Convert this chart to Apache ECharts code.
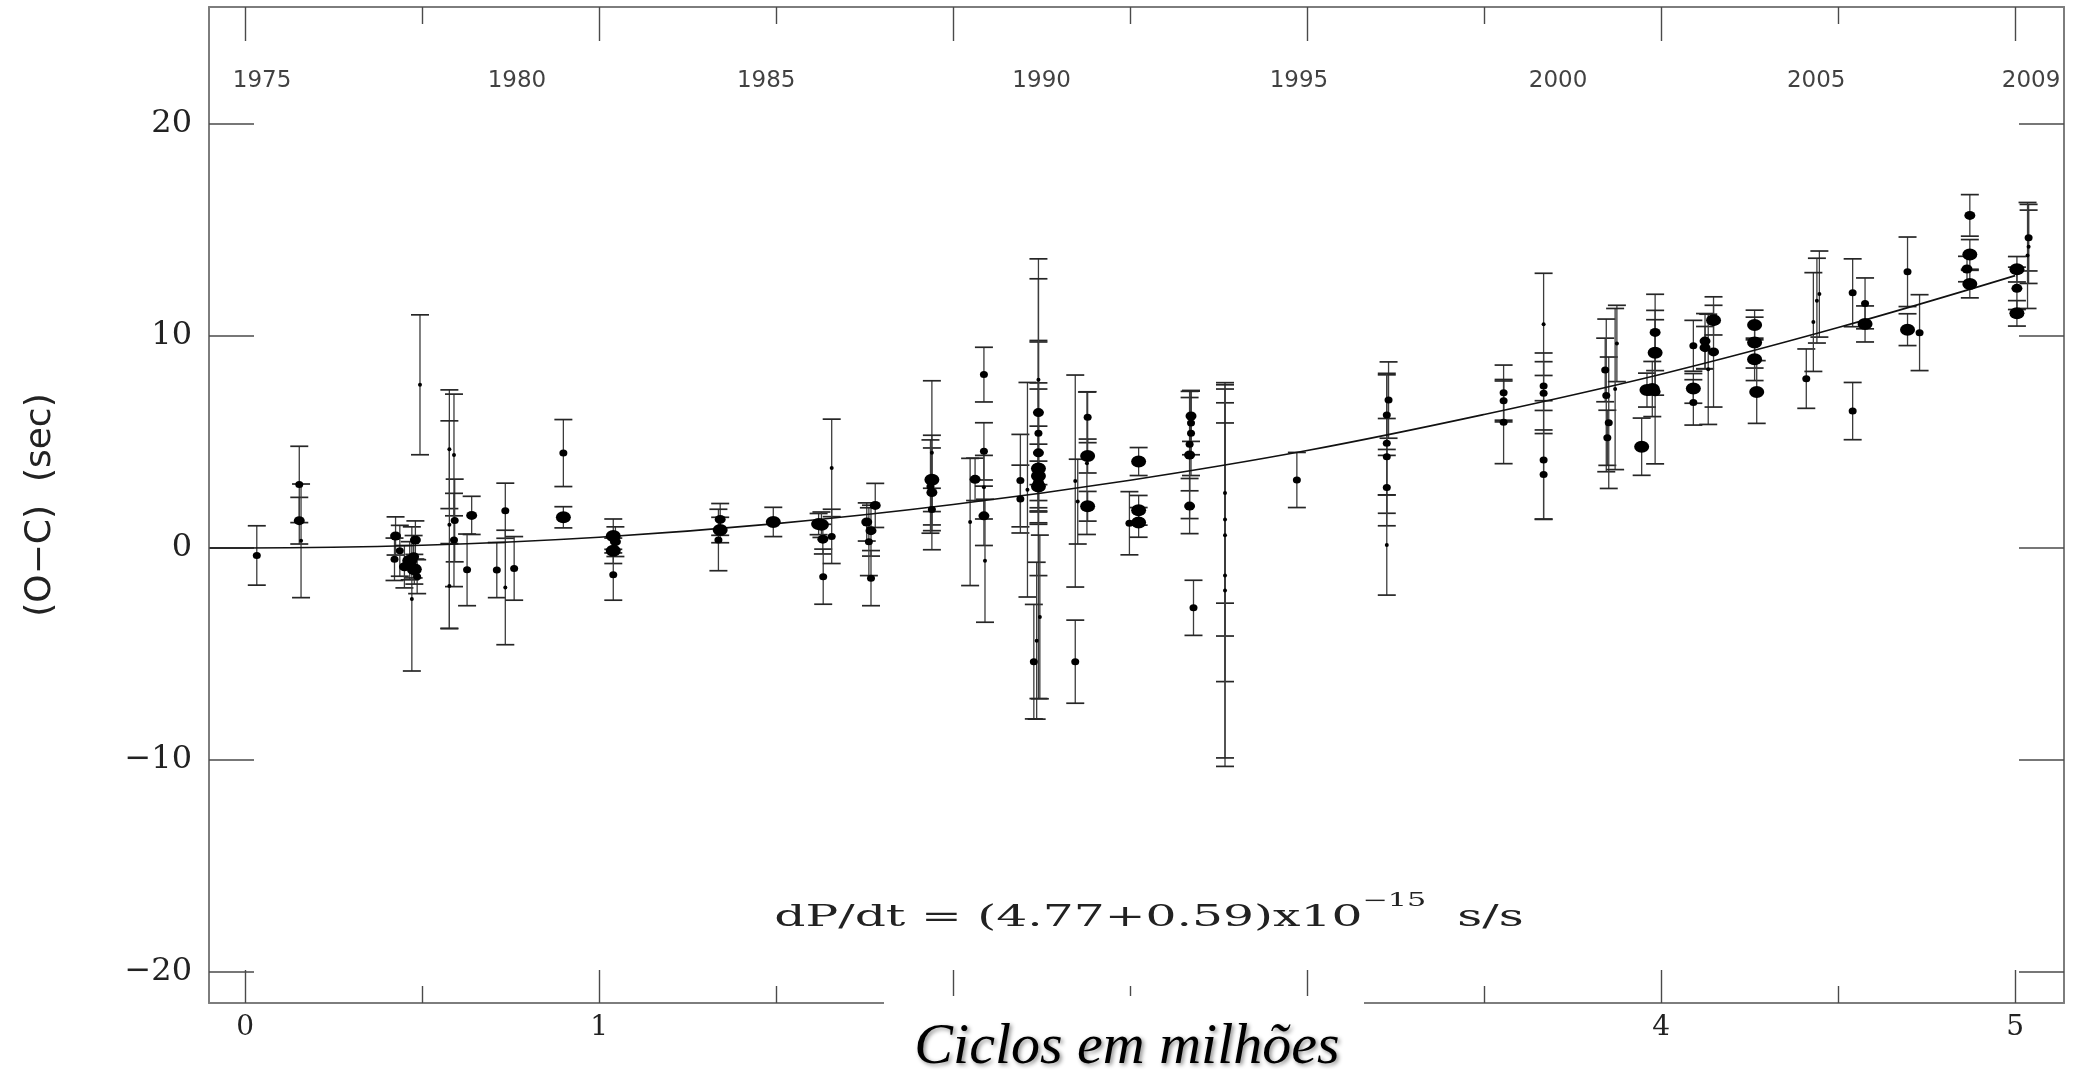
<!DOCTYPE html>
<html>
<head>
<meta charset="utf-8">
<script src="https://cdn.jsdelivr.net/npm/echarts@6/dist/echarts.min.js"></script>
<style>
  html, body { margin: 0; padding: 0; background: #fff; }
  #chart { width: 2081px; height: 1072px; }
</style>
</head>
<body>
<div id="chart"></div>
<script>
// O−C timing residuals against elapsed pulsation cycles (millions),
// with the parabola of the secular period change.

// Epoch of each timing (millions of cycles)
const cycles = [
  0.033,
  0.153, 0.153, 0.158,
  0.425, 0.422, 0.437, 0.450, 0.465, 0.471, 0.476, 0.481, 0.486, 0.478,
  0.494,
  0.577, 0.590, 0.592, 0.590, 0.577, 0.577,
  0.640, 0.627,
  0.711, 0.735, 0.735, 0.760,
  0.899, 0.899,
  1.040, 1.040, 1.046, 1.040,
  1.342, 1.342, 1.337,
  1.492,
  1.620, 1.628, 1.632, 1.633, 1.657, 1.657,
  1.756, 1.768, 1.780, 1.768, 1.762,
  1.940, 1.940, 1.940, 1.940, 1.936,
  2.048, 2.062, 2.087, 2.087, 2.087, 2.087, 2.090,
  2.190, 2.190, 2.210,
  2.241, 2.241, 2.241, 2.241, 2.241, 2.241, 2.241, 2.241, 2.241, 2.228, 2.236, 2.245,
  2.345, 2.345, 2.352, 2.380, 2.380, 2.380, 2.378,
  2.498, 2.524, 2.524, 2.524,
  2.672, 2.672, 2.672, 2.668, 2.668, 2.668, 2.679,
  2.768, 2.768, 2.768, 2.768, 2.768,
  2.971,
  3.230, 3.225, 3.225, 3.225, 3.225, 3.225,
  3.555, 3.555, 3.555,
  3.668, 3.668, 3.668, 3.668, 3.668,
  3.842, 3.845, 3.852, 3.848, 3.875, 3.870,
  3.945, 3.960, 3.983, 3.983, 3.983, 3.975,
  4.091, 4.091, 4.091,
  4.124, 4.124, 4.133, 4.148, 4.148,
  4.264, 4.264, 4.264, 4.270,
  4.410, 4.447, 4.440, 4.430,
  4.541, 4.541, 4.576, 4.576,
  4.696, 4.696, 4.730,
  4.872, 4.872, 4.864, 4.872,
  5.005, 5.005, 5.005, 5.038, 5.038, 5.035
];

// O−C residual (s)
const residual = [
  -0.35,
  3.0, 1.29, 0.34,
  0.57, -0.53, -0.13, -0.88, -0.6, -2.4, -0.41, 0.38, -1.35, -1.0,
  7.7,
  4.66, 4.39, 1.3, 0.38, -1.79, 1.1,
  1.54, -1.03,
  -1.04, 1.76, -1.86, -0.96,
  4.48, 1.45,
  0.57, -0.13, 0.3, -1.26,
  1.35, 0.85, 0.38,
  1.23,
  1.13, 1.1, 0.42, -1.35, 3.78, 0.55,
  1.23, 0.82, 2.01, -1.42, 0.3,
  4.49, 3.22, 2.62, 1.82, 2.9,
  1.23, 3.24, 8.18, 4.56, 2.87, 1.52, -0.6,
  3.18, 2.31, 2.75,
  7.94, 6.39, 5.42, 4.49, 3.75, 3.4, 2.9, 3.1, 2.8, -5.36, -4.37, -3.25,
  3.16, -5.36, 2.19, 6.17, 4.34, 1.97, 4.0,
  1.17, 4.08, 1.78, 1.21,
  6.23, 5.9, 5.42, 4.9, 4.39, 1.98, -2.82,
  2.6, 1.35, 0.6, -1.3, -2.0,
  3.21,
  6.98, 6.27, 4.94, 4.31, 2.85, 0.14,
  7.33, 6.95, 5.93,
  10.55, 7.64, 7.3, 4.15, 3.47,
  8.4, 7.2, 5.91, 5.2, 9.65, 7.5,
  4.78, 7.45, 10.17, 9.21, 7.37, 7.5,
  9.54, 7.53, 6.87,
  9.76, 9.45, 8.43, 10.75, 9.25,
  10.52, 9.69, 8.9, 7.36,
  7.99, 11.98, 11.67, 10.66,
  12.04, 6.46, 10.57, 11.54,
  13.03, 10.3, 10.16,
  15.69, 13.85, 13.16, 12.45,
  13.15, 12.25, 11.07, 14.64, 14.21, 13.8
];

// 1-sigma uncertainty (s)
const sigma = [
  1.4,
  1.8, 1.1, 2.68,
  0.9, 1.0, 1.2, 1.0, 0.9, 3.4, 1.0, 0.9, 0.8, 0.7,
  3.3,
  2.8, 2.87, 1.95, 2.2, 2.0, 4.9,
  0.9, 1.69,
  1.3, 1.3, 2.7, 1.5,
  1.58, 0.5,
  0.8, 0.6, 0.7, 1.2,
  0.75, 0.6, 1.45,
  0.69,
  0.5, 0.6, 0.7, 1.3, 2.3, 1.28,
  0.9, 1.2, 1.04, 1.3, 1.6,
  3.4, 1.5, 2.7, 1.0, 2.2,
  3.0, 1.0, 1.29, 1.35, 1.5, 1.4, 2.9,
  2.18, 1.6, 5.06,
  5.7, 3.4, 4.3, 3.3, 2.0, 1.5, 1.2, 4.4, 9.9, 2.7, 3.7, 3.86,
  5.0, 1.96, 2.0, 1.2, 0.8, 0.7, 3.36,
  1.49, 0.66, 0.7, 0.7,
  1.2, 1.5, 2.0, 2.2, 3.0, 1.3, 1.3,
  5.2, 5.5, 6.9, 9.0, 7.9,
  1.3,
  1.8, 1.9, 3.3, 1.8, 1.8, 2.36,
  1.3, 1.0, 1.95,
  2.41, 1.15, 1.9, 2.8, 2.1,
  1.5, 3.6, 3.1, 1.3, 1.8, 3.8,
  1.35, 0.8, 1.8, 2.0, 3.4, 1.3,
  1.2, 0.7, 1.07,
  1.3, 1.0, 2.6, 0.7, 2.6,
  0.7, 1.2, 1.0, 1.48,
  1.4, 2.03, 2.0, 2.33,
  1.6, 1.35, 0.85, 1.2,
  1.64, 0.75, 1.79,
  0.98, 0.7, 0.6, 0.65,
  0.6, 1.0, 0.6, 1.57, 1.73, 2.5
];

// Marker weight class of each timing (1 = faint … 4 = strongest)
const weight = [
  2,
  2, 3, 1,
  3, 2, 2, 3, 4, 1, 3, 3, 2, 4,
  1,
  1, 1, 2, 2, 1, 1,
  3, 2,
  2, 2, 1, 2,
  2, 4,
  4, 4, 3, 2,
  3, 4, 2,
  4,
  4, 4, 3, 2, 1, 2,
  3, 3, 3, 2, 2,
  1, 4, 3, 2, 2,
  1, 3, 2, 2, 1, 3, 1,
  2, 2, 1,
  1, 3, 2, 3, 4, 4, 4, 3, 1, 2, 1, 1,
  1, 2, 1, 2, 4, 4, 1,
  2, 4, 4, 4,
  3, 2, 2, 2, 3, 3, 2,
  1, 1, 1, 1, 1,
  2,
  2, 2, 2, 2, 2, 1,
  2, 2, 2,
  1, 2, 2, 2, 2,
  2, 2, 2, 2, 1, 1,
  4, 4, 3, 4, 3, 4,
  2, 4, 2,
  3, 3, 1, 4, 3,
  4, 4, 4, 4,
  2, 1, 1, 1,
  2, 2, 4, 2,
  2, 4, 2,
  3, 4, 3, 4,
  4, 3, 4, 2, 1, 1
];

// Fitted parabola, sampled along the curve
const fitCycles   = [-0.1, 0, 0.5, 1, 1.5, 2, 2.5, 3, 3.5, 4, 4.5, 5.0];
const fitResidual = [0.0, 0.0, 0.13, 0.51, 1.15, 2.05, 3.2, 4.6, 6.3, 8.2, 10.4, 12.85];

// Calendar years along the top edge
const yearText   = ['1975', '1980', '1985', '1990', '1995', '2000', '2005', '2009'];
const yearCycles = [0.048, 0.768, 1.472, 2.25, 2.977, 3.709, 4.438, 5.045];

// Tick values
const xMajor = [0, 1, 2, 3, 4, 5];
const xMinor = [0.5, 1.5, 2.5, 3.5, 4.5];
const yMajor = [-20, -10, 0, 10, 20];

// ---- layout / style constants ----
const X_MIN = -0.102, X_MAX = 5.138;
const Y_MIN = -21.46, Y_MAX = 25.52;
const YEAR_ROW = 22.05;
const DOT_SIZE = { 1: [4, 4], 2: [8, 7], 3: [11, 9], 4: [15, 12] };
const FRAME = '#7d7d7d';
const TICK = '#4a4a4a';
const SERIF = '"DejaVu Serif", serif';

const chart = echarts.init(document.getElementById('chart'), null, { renderer: 'canvas' });

function xAxisDef(position, values, len, withLine, withLabels) {
  return {
    type: 'value', position: position, min: X_MIN, max: X_MAX,
    axisLine: { show: withLine, onZero: false, lineStyle: { color: FRAME, width: 2 } },
    axisTick: { show: true, inside: true, length: len, customValues: values,
                lineStyle: { color: TICK, width: 1.4 } },
    axisLabel: withLabels
      ? { show: true, customValues: values, margin: 11, color: '#222',
          fontFamily: SERIF, fontSize: 28 }
      : { show: false },
    splitLine: { show: false }
  };
}

function yAxisDef(position, withLabels) {
  const a = {
    type: 'value', position: position, min: Y_MIN, max: Y_MAX,
    axisLine: { show: true, onZero: false, lineStyle: { color: FRAME, width: 2 } },
    axisTick: { show: true, inside: true, length: 45, customValues: yMajor,
                lineStyle: { color: TICK, width: 1.6 } },
    axisLabel: { show: false },
    splitLine: { show: false }
  };
  if (withLabels) {
    a.axisLabel = {
      show: true, customValues: yMajor, margin: 17, color: '#222',
      fontFamily: SERIF, fontSize: 32,
      formatter: v => (v < 0 ? '\u2212' + Math.abs(v) : String(v))
    };
    a.name = '(O\u2212C)  (sec)';
    a.nameLocation = 'middle';
    a.nameRotate = 90;
    a.nameGap = 150;
    a.nameTextStyle = { fontFamily: '"DejaVu Sans", sans-serif', fontSize: 36, color: '#222' };
  }
  return a;
}

const barData = cycles.map((c, i) => [c, residual[i], sigma[i]]);
const dotData = cycles.map((c, i) => [c, residual[i], weight[i]]);
const fitData = fitCycles.map((c, i) => [c, fitResidual[i]]);
const yearData = yearCycles.map((c, i) => [c, YEAR_ROW, yearText[i]]);

const option = {
  animation: false,
  backgroundColor: '#fff',
  grid: { left: 209, right: 17, top: 7, bottom: 69, containLabel: false },
  xAxis: [
    xAxisDef('bottom', xMajor, 33, true, true),
    xAxisDef('bottom', xMinor, 17, false, false),
    xAxisDef('top', xMajor, 34, true, false),
    xAxisDef('top', xMinor, 17, false, false)
  ],
  yAxis: [yAxisDef('left', true), yAxisDef('right', false)],
  series: [
    {
      name: 'fit', type: 'line', xAxisIndex: 0, yAxisIndex: 0,
      data: fitData, smooth: 0.4, showSymbol: false, silent: true,
      lineStyle: { color: '#111', width: 1.6 }, z: 3
    },
    {
      name: 'errors', type: 'custom', xAxisIndex: 0, yAxisIndex: 0,
      data: barData, encode: { x: 0, y: 1 }, clip: false, silent: true, z: 2,
      renderItem: function (params, api) {
        const x = api.value(0), y = api.value(1), s = api.value(2);
        const hi = api.coord([x, y + s]);
        const lo = api.coord([x, y - s]);
        const hw = 9;
        return {
          type: 'group',
          children: [
            { type: 'line', shape: { x1: hi[0], y1: hi[1], x2: lo[0], y2: lo[1] },
              style: { stroke: '#3c3c3c', lineWidth: 1.3 } },
            { type: 'line', shape: { x1: hi[0] - hw, y1: hi[1], x2: hi[0] + hw, y2: hi[1] },
              style: { stroke: '#262626', lineWidth: 1.7 } },
            { type: 'line', shape: { x1: lo[0] - hw, y1: lo[1], x2: lo[0] + hw, y2: lo[1] },
              style: { stroke: '#262626', lineWidth: 1.7 } }
          ]
        };
      }
    },
    {
      name: 'timings', type: 'scatter', xAxisIndex: 0, yAxisIndex: 0,
      data: dotData, symbol: 'circle',
      symbolSize: v => DOT_SIZE[v[2]],
      itemStyle: { color: '#000', opacity: 1 }, z: 4, silent: true
    },
    {
      name: 'years', type: 'scatter', xAxisIndex: 0, yAxisIndex: 0,
      data: yearData, symbolSize: 1, itemStyle: { color: 'rgba(0,0,0,0)' },
      silent: true, z: 5,
      label: {
        show: true, position: 'inside', formatter: p => p.value[2],
        fontFamily: '"DejaVu Sans", sans-serif', fontSize: 23, color: '#111'
      }
    }
  ],
  graphic: [
    {
      type: 'text', x: 1149, y: 918, scaleX: 1.68, z: 60,
      style: {
        text: 'dP/dt = (4.77+0.59)x10{sup|\u221215}  s/s',
        font: '29px "DejaVu Serif", serif',
        fill: '#222', align: 'center', verticalAlign: 'middle',
        rich: {
          sup: { fontFamily: '"DejaVu Serif", serif', fontSize: 18, fill: '#222',
                 padding: [0, 0, 34, 0] }
        }
      }
    },
    {
      type: 'rect', z: 100,
      shape: { x: 884, y: 996, width: 480, height: 76 },
      style: { fill: '#fff' }
    },
    {
      type: 'text', x: 1127, y: 1048, z: 101,
      style: {
        text: 'Ciclos em milhões',
        font: 'italic 58px "Liberation Serif", serif',
        fill: '#000', align: 'center', verticalAlign: 'middle',
        textShadowColor: 'rgba(0,0,0,0.45)', textShadowBlur: 4,
        textShadowOffsetX: 2, textShadowOffsetY: 2
      }
    }
  ]
};

chart.setOption(option);
</script>
</body>
</html>
